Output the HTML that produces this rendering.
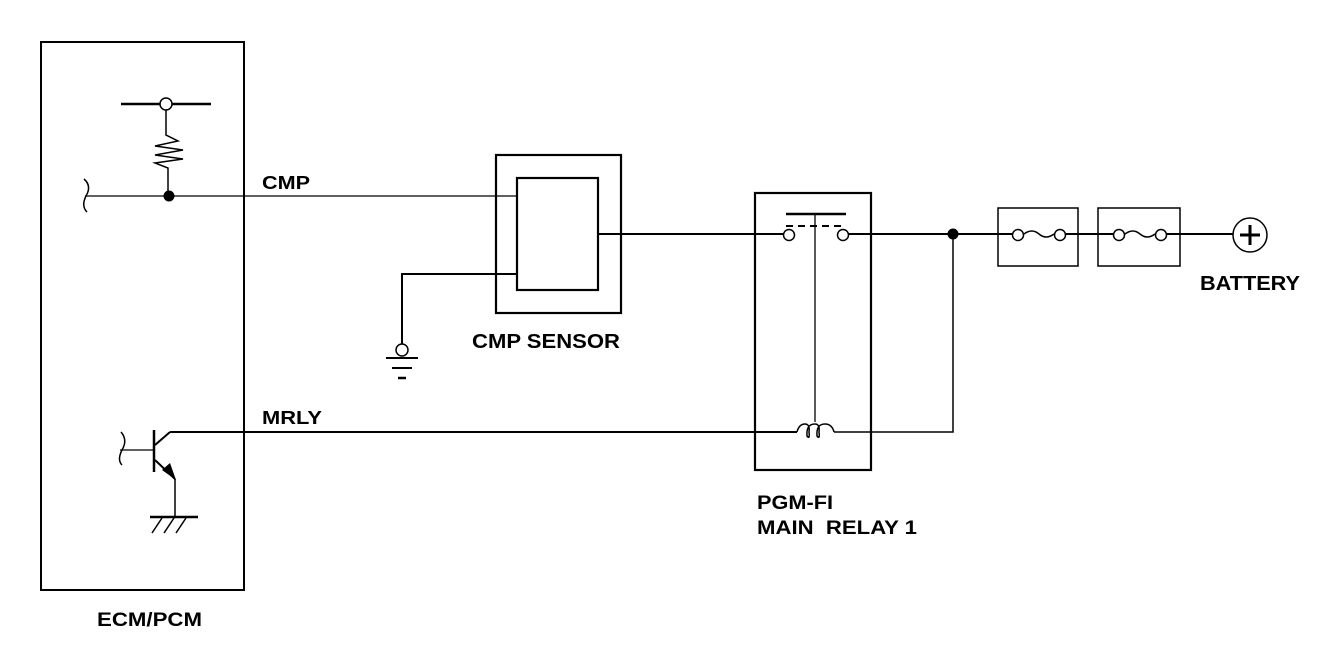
<!DOCTYPE html>
<html><head><style>
html,body{margin:0;padding:0;background:#fff;}
svg{display:block;}
text{font-family:"Liberation Sans",Arial,sans-serif;font-weight:bold;fill:#000;}
</style></head><body>
<svg width="1344" height="654" viewBox="0 0 1344 654" xmlns="http://www.w3.org/2000/svg">
<g fill="none" stroke="#000">
<rect x="41" y="42" width="203" height="548" stroke-width="2"/>
<line x1="121" y1="104" x2="160" y2="104" stroke-width="2.5"/>
<line x1="172" y1="104" x2="211" y2="104" stroke-width="2.5"/>
<circle cx="166" cy="104" r="6" stroke-width="1.5"/>
<polyline points="166,110 166,135 178,141 155,146 183,150 155,155 183,159 155,163 168,168 168,196" stroke-width="1.5"/>
<circle cx="169" cy="196" r="5" fill="#000"/>
<line x1="85" y1="196" x2="517" y2="196" stroke-width="1.3"/>
<path d="M84,179 Q92,186 86,196 Q81,206 87,212" stroke-width="1.5"/>
<rect x="496" y="155" width="125" height="158" stroke-width="2.2"/>
<rect x="517" y="178" width="81" height="112" stroke-width="2.2"/>
<line x1="598" y1="234" x2="784" y2="234" stroke-width="2"/>
<polyline points="517,274 402,274 402,344" stroke-width="2"/>
<circle cx="402" cy="350" r="6" stroke-width="1.5"/>
<line x1="386" y1="358" x2="418" y2="358" stroke-width="2"/>
<line x1="392" y1="368" x2="412" y2="368" stroke-width="2"/>
<line x1="398" y1="378" x2="406" y2="378" stroke-width="2.5"/>
<rect x="755" y="193" width="116" height="277" stroke-width="2.2"/>
<circle cx="789" cy="235" r="5.5" stroke-width="1.5"/>
<circle cx="843" cy="235" r="5.5" stroke-width="1.5"/>
<line x1="786" y1="214" x2="846" y2="214" stroke-width="2.5"/>
<line x1="815" y1="214" x2="815" y2="422" stroke-width="1.3"/>
<line x1="786" y1="226" x2="846" y2="226" stroke-width="2" stroke-dasharray="7,5"/>
<line x1="849" y1="234" x2="998" y2="234" stroke-width="2"/>
<circle cx="953" cy="234" r="5" fill="#000"/>
<polyline points="953,234 953,432 834,432" stroke-width="1.5"/>
<path d="M797,432 Q799,424 805,424 Q810,424 809,432 Q810,440 807,436 Q806,424 815,424 Q820,424 819,432 Q820,440 817,436 Q816,424 825,424 Q832,424 834,432" stroke-width="1.5"/>
<line x1="170" y1="432" x2="797" y2="432" stroke-width="2"/>
<rect x="998" y="208" width="80" height="58" stroke-width="1.5"/>
<rect x="1098" y="208" width="82" height="58" stroke-width="1.5"/>
<line x1="1078" y1="234" x2="1098" y2="234" stroke-width="2"/>
<line x1="1180" y1="234" x2="1233" y2="234" stroke-width="2"/>
<line x1="998" y1="234" x2="1012" y2="234" stroke-width="2"/>
<circle cx="1018" cy="235" r="5.5" stroke-width="1.5"/>
<circle cx="1060" cy="235" r="5.5" stroke-width="1.5"/>
<path d="M1024,234 Q1032,228 1039,234 Q1046,240 1054,234" stroke-width="1.5"/>
<line x1="1066" y1="234" x2="1078" y2="234" stroke-width="2"/>
<line x1="1098" y1="234" x2="1113" y2="234" stroke-width="2"/>
<circle cx="1119" cy="235" r="5.5" stroke-width="1.5"/>
<circle cx="1161" cy="235" r="5.5" stroke-width="1.5"/>
<path d="M1125,234 Q1133,228 1140,234 Q1147,240 1155,234" stroke-width="1.5"/>
<line x1="1167" y1="234" x2="1180" y2="234" stroke-width="2"/>
<circle cx="1250" cy="235" r="17" stroke-width="1.5"/>
<line x1="1240" y1="235" x2="1260" y2="235" stroke-width="3"/>
<line x1="1250" y1="225" x2="1250" y2="245" stroke-width="3"/>
<line x1="154" y1="430" x2="154" y2="472" stroke-width="2.5"/>
<line x1="120" y1="450" x2="154" y2="450" stroke-width="1.3"/>
<path d="M121,432 Q128,440 122,450 Q117,460 122,465" stroke-width="1.5"/>
<line x1="155" y1="445" x2="170" y2="432" stroke-width="2"/>
<line x1="155" y1="460" x2="175" y2="479" stroke-width="2"/>
<polyline points="175,479 175,517" stroke-width="1.5"/>
<line x1="150" y1="517" x2="198" y2="517" stroke-width="2.5"/>
<line x1="162" y1="518" x2="152" y2="533" stroke-width="1.5"/>
<line x1="174" y1="518" x2="164" y2="533" stroke-width="1.5"/>
<line x1="186" y1="518" x2="176" y2="533" stroke-width="1.5"/>
</g>
<polygon points="176,480 162,470 170,463" fill="#000"/>
<text x="262" y="189" font-size="18" textLength="48" lengthAdjust="spacingAndGlyphs">CMP</text>
<text x="262" y="424" font-size="18" textLength="60" lengthAdjust="spacingAndGlyphs">MRLY</text>
<text x="472" y="348" font-size="20" textLength="148" lengthAdjust="spacingAndGlyphs">CMP SENSOR</text>
<text x="757" y="509" font-size="19" textLength="76" lengthAdjust="spacingAndGlyphs">PGM-FI</text>
<text x="757" y="534" font-size="19" xml:space="preserve" textLength="160" lengthAdjust="spacingAndGlyphs">MAIN  RELAY 1</text>
<text x="1200" y="290" font-size="20" textLength="100" lengthAdjust="spacingAndGlyphs">BATTERY</text>
<text x="97" y="626" font-size="19" textLength="105" lengthAdjust="spacingAndGlyphs">ECM/PCM</text>
</svg>
</body></html>
